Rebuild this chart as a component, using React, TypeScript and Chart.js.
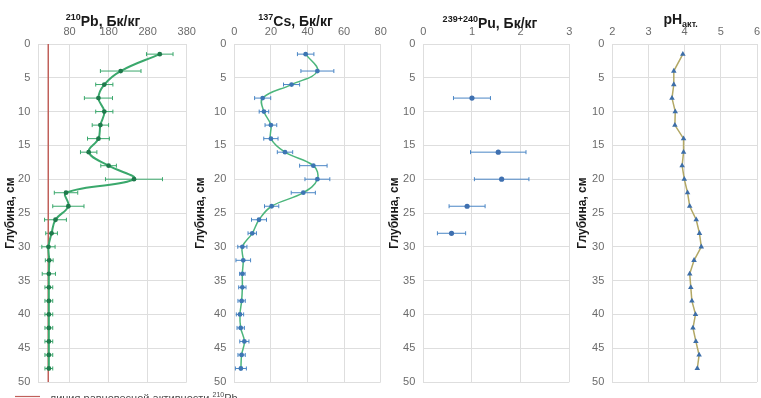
import React, { useEffect, useRef } from "react";
import { Chart, registerables } from "chart.js";
Chart.register(...registerables);

// ---------- data ----------
const depths = [1.5, 4, 6, 8, 10, 12, 14, 16, 18, 20, 22, 24, 26, 28, 30, 32, 34, 36, 38, 40, 42, 44, 46, 48];
const pbValues = [311, 211, 169, 154, 169, 159, 154, 129, 180, 245, 71, 77, 44, 34, 26, 28, 27, 27, 27, 27, 27, 27, 27, 27];
const pbErrors = [34, 52, 22, 36, 22, 21, 28, 21, 20, 73, 30, 40, 28, 15, 17, 10, 17, 10, 10, 10, 10, 10, 10, 10];
const pbEquilibrium = 25.5;
const csValues = [39, 45.4, 31.3, 15.5, 16.2, 20, 20, 27.7, 43.2, 45.4, 37.7, 20.4, 13.5, 9.8, 4.4, 4.9, 4.4, 4.4, 4.0, 3.1, 3.5, 5.5, 4.0, 3.6];
const csErrors = [4.5, 9, 4.4, 4.4, 2.6, 3.2, 3.9, 4.2, 7.5, 6.8, 6.6, 3.9, 4.1, 2.3, 2.5, 4, 1.5, 2, 2, 2, 2, 2.5, 2, 3];
const puDepths = [8, 16, 20, 24, 28];
const puValues = [1.0, 1.54, 1.61, 0.9, 0.58];
const puErrors = [0.38, 0.57, 0.56, 0.37, 0.29];
const phValues = [3.95, 3.7, 3.7, 3.65, 3.74, 3.73, 3.97, 3.97, 3.93, 3.99, 4.08, 4.14, 4.32, 4.41, 4.46, 4.26, 4.14, 4.17, 4.2, 4.3, 4.23, 4.31, 4.4, 4.35];

const pbTicks = [80, 180, 280, 380];
const csTicks = [0, 20, 40, 60, 80];
const puTicks = [0, 1, 2, 3];
const phTicks = [2, 3, 4, 5, 6];
const depthLabel = "Глубина, см";
const legendText = "- линия равновесной активности ";

const FONT = "'Liberation Sans Narrow', 'Liberation Sans', Arial, sans-serif";
const GRID = "#dedede";
const TICK = "#6b6b6b";

type Part = { t: string; k?: "sup" | "sub" };

const pts = (xs: number[], ys: number[]) => xs.map((x, i) => ({ x, y: ys[i] }));

const errorBarPlugin = {
  id: "errbars",
  beforeDatasetsDraw(chart: any) {
    const ctx = chart.ctx;
    const xs = chart.scales.x;
    const ys = chart.scales.y;
    chart.data.datasets.forEach((ds: any) => {
      if (!ds.errors) return;
      ctx.save();
      ctx.strokeStyle = ds.errorColor;
      ctx.lineWidth = 1;
      ds.data.forEach((p: any, i: number) => {
        const e = ds.errors[i];
        const x1 = xs.getPixelForValue(p.x - e);
        const x2 = xs.getPixelForValue(p.x + e);
        const y = ys.getPixelForValue(p.y);
        ctx.beginPath();
        ctx.moveTo(x1, y);
        ctx.lineTo(x2, y);
        ctx.moveTo(x1, y - 2);
        ctx.lineTo(x1, y + 2);
        ctx.moveTo(x2, y - 2);
        ctx.lineTo(x2, y + 2);
        ctx.stroke();
      });
      ctx.restore();
    });
  },
};

function drawParts(ctx: CanvasRenderingContext2D, parts: Part[], cx: number, cy: number, size: number, color: string, bold: boolean, align: "center" | "left") {
  const w = bold ? "bold " : "";
  const small = Math.round(size * 0.62);
  const fontFor = (p: Part) => `${w}${p.k ? small : size}px ${FONT}`;
  ctx.save();
  ctx.fillStyle = color;
  ctx.textBaseline = "middle";
  ctx.textAlign = "left";
  let total = 0;
  parts.forEach((p) => {
    ctx.font = fontFor(p);
    total += ctx.measureText(p.t).width;
  });
  let x = align === "center" ? cx - total / 2 : cx;
  parts.forEach((p) => {
    ctx.font = fontFor(p);
    const dy = p.k === "sup" ? -size * 0.35 : p.k === "sub" ? size * 0.3 : 0;
    ctx.fillText(p.t, x, cy + dy);
    x += ctx.measureText(p.t).width;
  });
  ctx.restore();
}

type Panel = {
  left: number;
  width: number;
  yWidth: number;
  padRight: number;
  title: Part[];
  titleX: number;
  titleY: number;
  xMin: number;
  xMax: number;
  xTicks: number[];
  datasets: any[];
  legend?: boolean;
};

const panels: Panel[] = [
  {
    left: 0, width: 240, yWidth: 38.3, padRight: 53.3,
    title: [{ t: "210", k: "sup" }, { t: "Pb, Бк/кг" }], titleX: 103, titleY: 22,
    xMin: 0, xMax: 380, xTicks: pbTicks, legend: true,
    datasets: [
      {
        data: pts(pbValues, depths), showLine: true, tension: 0.4, borderColor: "#3aa86c", borderWidth: 2,
        pointRadius: 2.4, pointBorderWidth: 0, pointBackgroundColor: "#1f7a4c",
        errors: pbErrors, errorColor: "#3aa86c", order: 1,
      },
      {
        data: [{ x: pbEquilibrium, y: 0 }, { x: pbEquilibrium, y: 50 }], showLine: true, borderColor: "#c0605a",
        borderWidth: 1.5, pointRadius: 0, order: 2,
      },
    ],
  },
  {
    left: 190, width: 200, yWidth: 44.3, padRight: 9.3,
    title: [{ t: "137", k: "sup" }, { t: "Cs, Бк/кг" }], titleX: 105.5, titleY: 22,
    xMin: 0, xMax: 80, xTicks: csTicks,
    datasets: [
      {
        data: pts(csValues, depths), showLine: true, tension: 0.4, borderColor: "#4cb67c", borderWidth: 1.5,
        pointRadius: 2.4, pointBorderWidth: 0, pointBackgroundColor: "#3d76b3",
        errors: csErrors, errorColor: "#4a86c5",
      },
    ],
  },
  {
    left: 384, width: 196, yWidth: 39.3, padRight: 10.7,
    title: [{ t: "239+240", k: "sup" }, { t: "Pu, Бк/кг" }], titleX: 106, titleY: 24,
    xMin: 0, xMax: 3, xTicks: puTicks,
    datasets: [
      {
        data: pts(puValues, puDepths), showLine: false, pointRadius: 2.6, pointBorderWidth: 0,
        pointBackgroundColor: "#3f70b0",
        errors: puErrors, errorColor: "#4a86c5",
      },
    ],
  },
  {
    left: 572, width: 189.3, yWidth: 40.3, padRight: 0,
    title: [{ t: "pH" }, { t: "акт.", k: "sub" }], titleX: 108.6, titleY: 20,
    xMin: 2, xMax: 6, xTicks: phTicks,
    datasets: [
      {
        data: pts(phValues, depths), showLine: true, tension: 0, borderColor: "#b3a865", borderWidth: 1.5,
        pointStyle: "triangle", pointRadius: 3.2, pointBorderWidth: 0, pointBackgroundColor: "#3d6ea8",
      },
    ],
  },
];

function PanelChart({ p }: { p: Panel }) {
  const ref = useRef<HTMLCanvasElement>(null);
  useEffect(() => {
    if (!ref.current) return;
    const deco = {
      id: "deco",
      afterDraw(chart: any) {
        const ctx = chart.ctx;
        drawParts(ctx, p.title, p.titleX, p.titleY, 14, "#1a1a1a", true, "center");
        if (p.legend) {
          ctx.save();
          ctx.strokeStyle = "#c0605a";
          ctx.lineWidth = 1.2;
          ctx.beginPath();
          ctx.moveTo(15, 396.5);
          ctx.lineTo(40, 396.5);
          ctx.stroke();
          ctx.restore();
          drawParts(ctx, [{ t: legendText }, { t: "210", k: "sup" }, { t: "Pb" }], 43, 399, 11, "#4a4a4a", false, "left");
        }
      },
    };
    const chart = new Chart(ref.current, {
      type: "scatter",
      data: { datasets: p.datasets },
      plugins: [errorBarPlugin, deco],
      options: {
        animation: false,
        responsive: false,
        maintainAspectRatio: false,
        layout: { padding: { top: 24, bottom: 16, left: 0, right: p.padRight } },
        plugins: { legend: { display: false }, tooltip: { enabled: false }, title: { display: false } },
        scales: {
          x: {
            type: "linear",
            position: "top",
            min: p.xMin,
            max: p.xMax,
            afterBuildTicks: (s: any) => {
              s.ticks = p.xTicks.map((v) => ({ value: v }));
            },
            afterFit: (s: any) => {
              s.height = 20;
              s.paddingLeft = 0;
              s.paddingRight = 0;
            },
            ticks: { color: TICK, font: { size: 11, family: FONT }, padding: 5, maxRotation: 0, autoSkip: false },
            grid: { color: GRID, drawTicks: false },
            border: { display: false },
          },
          y: {
            type: "linear",
            reverse: true,
            min: 0,
            max: 50,
            afterFit: (s: any) => {
              s.width = p.yWidth;
              s.paddingTop = 0;
              s.paddingBottom = 0;
            },
            ticks: { stepSize: 5, color: TICK, font: { size: 11, family: FONT }, padding: 8 },
            grid: { color: GRID, drawTicks: false },
            border: { color: GRID },
            title: {
              display: true,
              text: depthLabel,
              color: "#1a1a1a",
              font: { size: 12, weight: "bold", family: FONT },
              padding: { top: 3, bottom: 0 },
            },
          },
        },
      } as any,
    });
    return () => chart.destroy();
  }, [p]);
  return (
    <div style={{ position: "absolute", left: p.left, top: 0, width: p.width, height: 398 }}>
      <canvas ref={ref} width={p.width} height={398} style={{ width: p.width, height: 398, display: "block" }} />
    </div>
  );
}

export default function App() {
  return (
    <div style={{ position: "absolute", left: 0, top: 0, width: 761, height: 398, overflow: "hidden", background: "#fff" }}>
      {panels.map((p, i) => (
        <PanelChart key={i} p={p} />
      ))}
    </div>
  );
}
